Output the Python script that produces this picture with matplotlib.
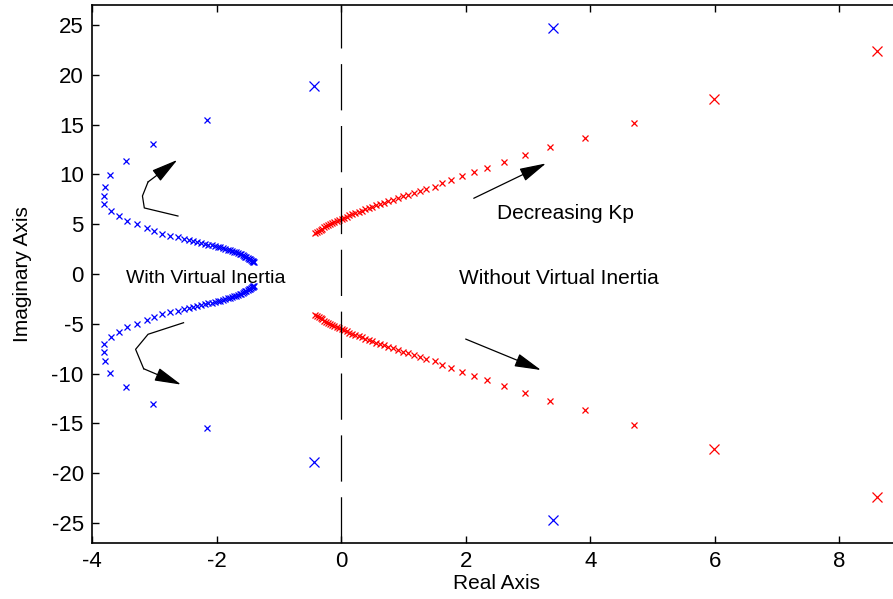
import matplotlib
matplotlib.use("Agg")
import matplotlib.pyplot as plt

plt.rcParams['font.family'] = ['Liberation Sans', 'DejaVu Sans']
plt.rcParams['axes.unicode_minus'] = False

# upper half of the loci (lower half is the conjugate)
blue_re = [-2.16, -3.02, -3.46, -3.71, -3.79, -3.81, -3.80, -3.70, -3.57, -3.43,
           -3.28, -3.12, -3.00, -2.88, -2.74, -2.62, -2.53, -2.45, -2.38, -2.31,
           -2.25, -2.19, -2.13, -2.08, -2.03, -1.98, -1.94, -1.90, -1.86, -1.82,
           -1.78, -1.75, -1.72, -1.69, -1.66, -1.63, -1.61, -1.58, -1.56, -1.54,
           -1.52, -1.50, -1.48, -1.46, -1.45, -1.43, -1.42, -1.41, -1.40]
blue_im = [15.5, 13.05, 11.3, 9.94, 8.77, 7.86, 7.06, 6.36, 5.79, 5.35,
           4.99, 4.65, 4.32, 4.05, 3.82, 3.68, 3.55, 3.43, 3.33, 3.22,
           3.13, 3.04, 2.96, 2.88, 2.80, 2.73, 2.66, 2.59, 2.52, 2.45,
           2.38, 2.31, 2.24, 2.17, 2.10, 2.03, 1.96, 1.89, 1.82, 1.75,
           1.68, 1.61, 1.54, 1.47, 1.40, 1.33, 1.28, 1.24, 1.20]
blue_big_re = [-0.43, 3.40]
blue_big_im = [18.9, 24.7]

red_re = [4.71, 3.92, 3.36, 2.96, 2.62, 2.34, 2.13, 1.94, 1.77, 1.62,
          1.50, 1.37, 1.27, 1.17, 1.08, 0.99, 0.91, 0.83, 0.76, 0.69,
          0.62, 0.56, 0.50, 0.44, 0.38, 0.33, 0.28, 0.23, 0.18, 0.13,
          0.09, 0.05, 0.01, -0.03, -0.07, -0.11, -0.14, -0.18, -0.21, -0.24,
          -0.27, -0.30, -0.33, -0.36, -0.39, -0.42]
red_im = [15.2, 13.7, 12.7, 11.9, 11.2, 10.6, 10.2, 9.8, 9.44, 9.17,
          8.77, 8.53, 8.33, 8.13, 7.95, 7.78, 7.62, 7.46, 7.31, 7.16,
          7.02, 6.88, 6.75, 6.62, 6.49, 6.36, 6.24, 6.12, 6.0, 5.88,
          5.77, 5.66, 5.55, 5.44, 5.33, 5.22, 5.11, 5.0, 4.89, 4.78,
          4.67, 4.56, 4.45, 4.34, 4.22, 4.09]
red_big_re = [5.98, 8.61]
red_big_im = [17.6, 22.4]

fig = plt.figure(figsize=(8.93, 5.99), dpi=100)
ax = fig.add_axes([92/893, 1-543/599, (901.6-92)/893, 538/599])

for re, im, c in [(blue_re, blue_im, 'blue'), (red_re, red_im, 'red')]:
    ax.plot(re, im, 'x', color=c, ms=4.2, mew=0.9)
    ax.plot(re, [-v for v in im], 'x', color=c, ms=4.2, mew=0.9)
for re, im, c in [(blue_big_re, blue_big_im, 'blue'), (red_big_re, red_big_im, 'red')]:
    ax.plot(re, im, 'x', color=c, ms=7, mew=0.9)
    ax.plot(re, [-v for v in im], 'x', color=c, ms=7, mew=0.9)

ax.axvline(0, color='black', lw=0.9, dashes=(37, 12.5))

arrow = dict(arrowstyle='-|>,head_length=1.1,head_width=0.28',
             color='black', lw=0.9, mutation_scale=15, shrinkA=0, shrinkB=0)

# curved arrows on the left
ax.plot([-2.62, -3.16, -3.19, -3.10], [5.82, 6.63, 7.83, 9.24], color='black', lw=0.9)
ax.annotate('', xy=(-2.63, 11.45), xytext=(-3.10, 9.24), arrowprops=arrow)
ax.plot([-2.53, -3.10, -3.30, -3.17], [-4.89, -6.05, -7.56, -9.51], color='black', lw=0.9)
ax.annotate('', xy=(-2.57, -11.1), xytext=(-3.17, -9.51), arrowprops=arrow)
# straight arrows on the right
ax.annotate('', xy=(3.29, 11.1), xytext=(2.13, 7.60), arrowprops=arrow)
ax.annotate('', xy=(3.21, -9.64), xytext=(2.0, -6.53), arrowprops=arrow)

ax.text(-2.18, -0.5, 'With Virtual Inertia', fontsize=14, ha='center', va='center')
ax.text(3.50, -0.5, 'Without Virtual Inertia', fontsize=15, ha='center', va='center')
ax.text(3.61, 6.12, 'Decreasing Kp', fontsize=15, ha='center', va='center')

ax.set_xlim(-4, 9)
ax.set_ylim(-27, 27)
ax.set_xticks([-4, -2, 0, 2, 4, 6, 8])
ax.set_yticks([-25, -20, -15, -10, -5, 0, 5, 10, 15, 20, 25])
ax.tick_params(direction='in', top=True, right=True, length=5, width=1,
               labelsize=16, pad=6)
for s in ax.spines.values():
    s.set_linewidth(1.2)
ax.set_xlabel('Real Axis', fontsize=15, labelpad=1)
ax.set_ylabel('Imaginary Axis', fontsize=15, labelpad=14)

fig.savefig('out.png', dpi=100)
